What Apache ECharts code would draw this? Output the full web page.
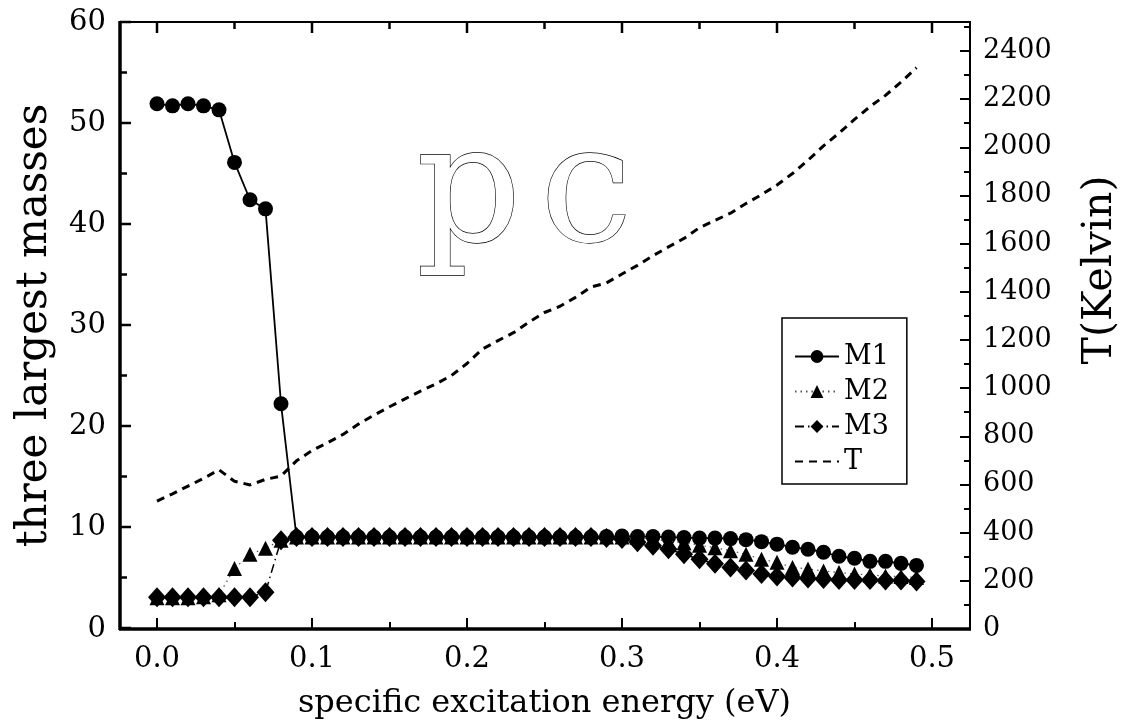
<!DOCTYPE html>
<html>
<head>
<meta charset="utf-8">
<script src="https://cdn.jsdelivr.net/npm/echarts@6/dist/echarts.min.js"></script>
<style>
  html, body { margin: 0; padding: 0; background: #fff; }
  #chart { width: 1123px; height: 725px; }
</style>
</head>
<body>
<div id="chart"></div>
<script>
// specific excitation energy (eV)
const energy = [0.00, 0.01, 0.02, 0.03, 0.04, 0.05, 0.06, 0.07, 0.08, 0.09,
  0.10, 0.11, 0.12, 0.13, 0.14, 0.15, 0.16, 0.17, 0.18, 0.19,
  0.20, 0.21, 0.22, 0.23, 0.24, 0.25, 0.26, 0.27, 0.28, 0.29,
  0.30, 0.31, 0.32, 0.33, 0.34, 0.35, 0.36, 0.37, 0.38, 0.39,
  0.40, 0.41, 0.42, 0.43, 0.44, 0.45, 0.46, 0.47, 0.48, 0.49];

// three largest masses
const m1 = [51.9, 51.7, 51.9, 51.7, 51.3, 46.1, 42.4, 41.5, 22.2, 9.0,
  9.0, 9.0, 9.0, 9.0, 9.0, 9.0, 9.0, 9.0, 9.0, 9.0,
  9.0, 9.0, 9.0, 9.0, 9.0, 9.0, 9.0, 9.0, 9.0, 9.05,
  9.1, 9.05, 9.05, 9.0, 8.95, 8.9, 8.9, 8.85, 8.75, 8.55,
  8.3, 8.0, 7.8, 7.5, 7.1, 6.9, 6.6, 6.6, 6.4, 6.2];
const m2 = [3.0, 3.0, 3.0, 3.1, 3.3, 5.9, 7.3, 7.9, 8.7, 9.0,
  9.0, 9.0, 9.0, 9.0, 9.0, 9.0, 9.0, 9.0, 9.0, 9.0,
  9.0, 9.0, 9.0, 9.0, 9.0, 9.0, 9.0, 9.0, 9.0, 9.0,
  9.0, 8.95, 8.8, 8.6, 8.45, 8.2, 7.95, 7.65, 7.3, 6.8,
  6.5, 6.0, 5.85, 5.65, 5.5, 5.35, 5.25, 5.15, 5.1, 5.0];
const m3 = [3.05, 3.05, 3.05, 3.05, 3.05, 3.05, 3.05, 3.55, 8.7, 9.0,
  9.0, 9.0, 9.0, 9.0, 9.0, 9.0, 9.0, 9.0, 9.0, 9.0,
  9.0, 9.0, 9.0, 9.0, 9.0, 9.0, 9.0, 9.0, 9.0, 8.9,
  8.8, 8.5, 8.15, 7.8, 7.3, 6.8, 6.35, 6.0, 5.7, 5.35,
  5.1, 5.0, 4.9, 4.85, 4.75, 4.75, 4.75, 4.7, 4.7, 4.6];

// temperature (Kelvin), right axis
const temp = [528, 558, 590, 622, 658, 610, 595, 618, 632, 695,
  738, 770, 805, 848, 885, 920, 953, 985, 1015, 1050,
  1100, 1160, 1195, 1228, 1272, 1312, 1338, 1375, 1418, 1435,
  1472, 1508, 1548, 1585, 1620, 1665, 1695, 1725, 1765, 1802,
  1842, 1890, 1945, 2005, 2058, 2115, 2168, 2215, 2270, 2330];

const massTicks = [0, 60, 10];
const tempTicks = [0, 2520, 200];
const energyTicks = [0, 0.5, 0.1];

const FONT = 'DejaVu Serif';
const TOP = 22, BOTTOM = 96;
const FRAME_LEFT = 120;

const chart = echarts.init(document.getElementById('chart'));

function pairs(ys) {
  return energy.map((x, i) => [x, ys[i]]);
}

const tickStyle = { color: '#000', width: 2 };
const noLine = { show: false, onZero: false };

let option = {
  animation: false,
  backgroundColor: '#fff',
  grid: [
    // plotting area (x from 0.0 to 0.5)
    { left: 157, right: 191, top: TOP, bottom: BOTTOM },
    // full frame, carries the visible y axes
    { left: FRAME_LEFT, right: 153, top: TOP, bottom: BOTTOM }
  ],
  legend: {
    orient: 'vertical',
    left: 782,
    top: 318,
    padding: [25, 18, 9, 12],
    borderColor: '#000',
    borderWidth: 1.5,
    itemWidth: 44,
    itemHeight: 16,
    itemGap: 8,
    textStyle: { fontFamily: FONT, fontSize: 27, color: '#000' },
    data: ['M1', 'M2', 'M3', { name: 'T', itemStyle: { color: 'rgba(0,0,0,0)', borderWidth: 0 } }]
  },
  xAxis: [
    {
      type: 'value',
      gridIndex: 0,
      position: 'bottom',
      min: energyTicks[0],
      max: energyTicks[1],
      interval: energyTicks[2],
      axisLine: noLine,
      splitLine: { show: false },
      axisTick: { show: true, inside: true, length: 10, lineStyle: tickStyle },
      minorTick: { show: true, splitNumber: 2, length: 6, lineStyle: tickStyle },
      axisLabel: {
        margin: 17,
        fontFamily: FONT, fontSize: 29, color: '#000',
        formatter: v => v.toFixed(1)
      },
      name: 'specific excitation energy (eV)',
      nameLocation: 'middle',
      nameGap: 60,
      nameTextStyle: { fontFamily: FONT, fontSize: 32, color: '#000' }
    },
    { type: 'value', gridIndex: 1, min: 0, max: 1, show: false }
  ],
  yAxis: [
    { type: 'value', gridIndex: 0, min: massTicks[0], max: massTicks[1], show: false },
    { type: 'value', gridIndex: 0, min: tempTicks[0], max: tempTicks[1], show: false },
    {
      type: 'value',
      gridIndex: 1,
      position: 'left',
      min: massTicks[0],
      max: massTicks[1],
      interval: massTicks[2],
      axisLine: noLine,
      splitLine: { show: false },
      axisTick: { show: false },
      axisLabel: { margin: 14, fontFamily: FONT, fontSize: 29, color: '#000' },
      name: 'three largest masses',
      nameLocation: 'middle',
      nameGap: 64,
      nameTextStyle: { fontFamily: FONT, fontSize: 42, color: '#000' }
    },
    {
      type: 'value',
      gridIndex: 1,
      position: 'right',
      min: tempTicks[0],
      max: tempTicks[1],
      interval: tempTicks[2],
      axisLine: noLine,
      splitLine: { show: false },
      axisTick: { show: true, inside: true, length: 10, lineStyle: tickStyle },
      minorTick: { show: true, splitNumber: 2, length: 6, lineStyle: tickStyle },
      axisLabel: {
        margin: 13, fontFamily: FONT, fontSize: 27, color: '#000',
        showMaxLabel: false,
        formatter: v => (v % 200 === 0 && v <= 2400 ? String(v) : '')
      }
    }
  ],
  graphic: [
    // frame
    {
      type: 'rect', z: 100, silent: true,
      shape: { x: 120, y: 22, width: 850, height: 607 },
      style: { fill: 'none', stroke: '#000', lineWidth: 2 }
    },
    {
      type: 'line', z: 101, silent: true,
      shape: { x1: 119, y1: 629, x2: 971, y2: 629 },
      style: { stroke: '#000', lineWidth: 3.5 }
    },
    {
      type: 'line', z: 101, silent: true,
      shape: { x1: 120, y1: 21, x2: 120, y2: 630 },
      style: { stroke: '#000', lineWidth: 3.5 }
    },
    // right axis title
    {
      type: 'text', silent: true,
      x: 1100, y: 270, rotation: Math.PI / 2,
      style: {
        text: 'T(Kelvin)', fontFamily: FONT, fontSize: 41, fill: '#000',
        align: 'center', verticalAlign: 'middle'
      }
    },
    // outlined "pc" mark
    {
      type: 'text', silent: true,
      x: 416, y: 116,
      style: {
        text: 'p', fontFamily: FONT, fontSize: 165, fill: '#fff',
        stroke: '#000', lineWidth: 1.3, verticalAlign: 'top'
      }
    },
    {
      type: 'text', silent: true,
      x: 540, y: 116,
      style: {
        text: 'c', fontFamily: FONT, fontSize: 165, fill: '#fff',
        stroke: '#000', lineWidth: 1.3, verticalAlign: 'top'
      }
    }
  ],
  series: [
    {
      name: 'T',
      type: 'line',
      xAxisIndex: 0,
      yAxisIndex: 1,
      data: pairs(temp),
      showSymbol: false,
      symbol: 'none',
      clip: false,
      lineStyle: { color: '#000', width: 3, type: [8, 6] },
      itemStyle: { color: '#000' },
      z: 2
    },
    {
      name: 'M1',
      type: 'line',
      xAxisIndex: 0,
      yAxisIndex: 0,
      data: pairs(m1),
      symbol: 'circle',
      symbolSize: 15,
      showAllSymbol: true,
      clip: false,
      lineStyle: { color: '#000', width: 1.8 },
      itemStyle: { color: '#000' },
      z: 3
    },
    {
      name: 'M2',
      type: 'line',
      xAxisIndex: 0,
      yAxisIndex: 0,
      data: pairs(m2),
      symbol: 'triangle',
      symbolSize: 15,
      showAllSymbol: true,
      clip: false,
      lineStyle: { color: '#555', width: 1.2, type: [1.5, 4] },
      itemStyle: { color: '#000' },
      z: 4
    },
    {
      name: 'M3',
      type: 'line',
      xAxisIndex: 0,
      yAxisIndex: 0,
      data: pairs(m3),
      symbol: 'diamond',
      symbolSize: [18, 20],
      showAllSymbol: true,
      clip: false,
      lineStyle: { color: '#000', width: 1.5, type: [9, 4, 1.5, 4] },
      itemStyle: { color: '#000' },
      z: 5
    }
  ]
};

chart.setOption(option);

// left and top frame ticks, placed through the axes' own scales
const frameTicks = [];
const massSteps = (massTicks[1] - massTicks[0]) / (massTicks[2] / 2);
for (let i = 0; i <= massSteps; i++) {
  const v = massTicks[0] + i * massTicks[2] / 2;
  const y = chart.convertToPixel({ yAxisIndex: 0 }, v);
  const len = i % 2 === 0 ? 11 : 7;
  frameTicks.push({
    type: 'line', z: 102, silent: true,
    shape: { x1: FRAME_LEFT, y1: y, x2: FRAME_LEFT + len, y2: y },
    style: { stroke: '#000', lineWidth: 2.5 }
  });
}
const energySteps = Math.round((energyTicks[1] - energyTicks[0]) / (energyTicks[2] / 2));
for (let i = 0; i <= energySteps; i++) {
  const v = energyTicks[0] + i * energyTicks[2] / 2;
  const x = chart.convertToPixel({ xAxisIndex: 0 }, v);
  const len = i % 2 === 0 ? 11 : 7;
  frameTicks.push({
    type: 'line', z: 102, silent: true,
    shape: { x1: x, y1: TOP, x2: x, y2: TOP + len },
    style: { stroke: '#000', lineWidth: 2.5 }
  });
}
chart.setOption({ graphic: option.graphic.concat(frameTicks) });
</script>
</body>
</html>
